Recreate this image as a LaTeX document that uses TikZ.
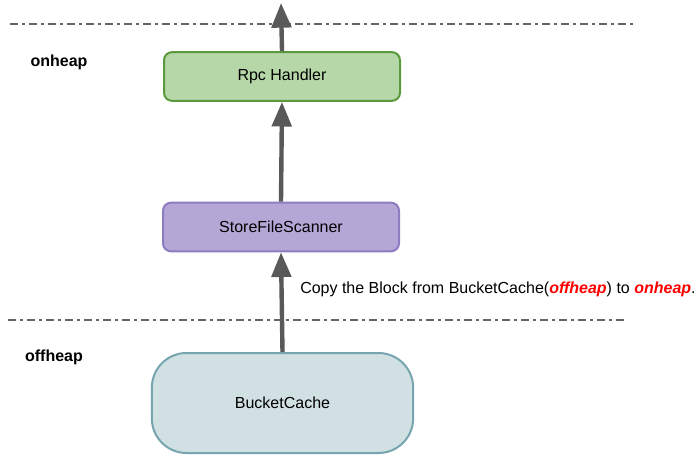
\documentclass[tikz,border=0pt]{standalone}
\usepackage{fontspec}
\setmainfont{Liberation Sans}
\usetikzlibrary{arrows.meta}
\definecolor{flowgray}{HTML}{595959}
\definecolor{lineg}{HTML}{666666}
\definecolor{rpcfill}{HTML}{B6D7A8}
\definecolor{rpcdraw}{HTML}{5A9A3C}
\definecolor{sfsfill}{HTML}{B4A7D6}
\definecolor{sfsdraw}{HTML}{8E7CC3}
\definecolor{bcfill}{HTML}{D0E0E3}
\definecolor{bcdraw}{HTML}{76A5AF}
\definecolor{hot}{HTML}{FF0000}
\tikzset{
  stagebox/.style={draw, line width=1.5pt, rounded corners=6pt, inner sep=0pt,
    minimum width=177pt, minimum height=36.5pt,
    font=\fontsize{12pt}{14pt}\selectfont},
  flow/.style={draw=flowgray, line width=3.3pt,
    -{Triangle[length=18.5pt, width=14.5pt]}},
  heapline/.style={draw=lineg, line width=1.3pt,
    dash pattern=on 6pt off 3pt on 2.25pt off 3pt},
  zonelabel/.style={font=\bfseries\fontsize{12pt}{14pt}\selectfont},
}
\begin{document}
\begin{tikzpicture}[x=0.75pt, y=-0.75pt]
  \useasboundingbox (0,0) rectangle (696,456);

  % memory zone separators
  \coordinate (topL) at (10,24);
  \coordinate (topR) at (635,24);
  \coordinate (midL) at (8,320);
  \coordinate (midR) at (628,320);
  \draw[heapline] (topL) -- (topR);
  \draw[heapline] (midL) -- (midR);

  \node[zonelabel] (onlbl) at (59,62) {onheap};
  \node[zonelabel] (offlbl) at (54,357) {offheap};

  % processing stages
  \node[stagebox, fill=rpcfill, draw=rpcdraw] (rpc) at (282,76.5) {Rpc Handler};
  \node[stagebox, fill=sfsfill, draw=sfsdraw] (sfs) at (281,227) {StoreFileScanner};
  \node[stagebox, fill=bcfill, draw=bcdraw, rounded corners=26pt,
        minimum width=196pt, minimum height=75pt] (bc) at (282.5,403) {BucketCache};

  % data flow
  \coordinate (out) at (281,3);
  \draw[flow] (bc.north) -- (sfs.south);
  \draw[flow] (sfs.north) -- (rpc.south);
  \draw[flow] (rpc.north) -- (out);

  \node[anchor=west, inner sep=0pt, font=\fontsize{12pt}{14pt}\selectfont] (copy) at (300,289)
    {Copy the Block from BucketCache(\textcolor{hot}{\textbf{\textit{offheap}}}) to \textcolor{hot}{\textbf{\textit{onheap}}}.};
\end{tikzpicture}
\end{document}
